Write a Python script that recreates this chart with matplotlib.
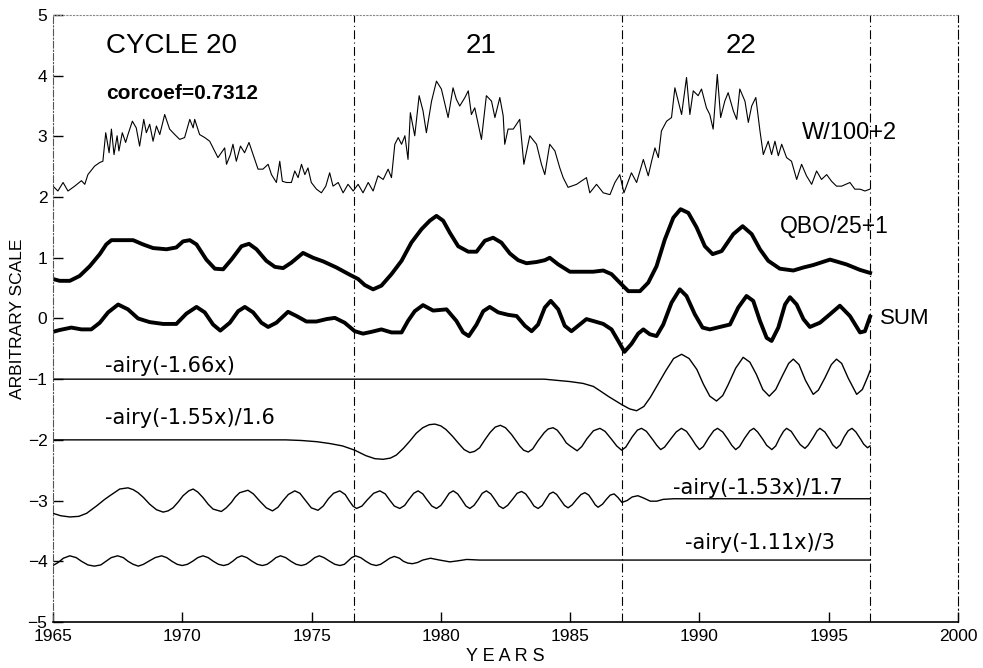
import matplotlib
matplotlib.use('Agg')
import matplotlib.pyplot as plt

plt.rcParams['font.family'] = ['Liberation Sans', 'DejaVu Sans']

# W/100+2 (numero de Wolf)
w_anios = [1965.00, 1965.19, 1965.39, 1965.58, 1965.84, 1966.10, 1966.23, 1966.35, 1966.61, 1966.81,
           1966.93, 1967.04, 1967.17, 1967.26, 1967.36, 1967.48, 1967.55, 1967.68, 1967.81, 1967.90,
           1968.07, 1968.22, 1968.35, 1968.51, 1968.61, 1968.74, 1968.87, 1969.00, 1969.13, 1969.32,
           1969.51, 1969.71, 1969.90, 1970.09, 1970.29, 1970.42, 1970.48, 1970.67, 1970.87, 1971.06,
           1971.25, 1971.38, 1971.51, 1971.64, 1971.71, 1971.86, 1971.96, 1972.09, 1972.25, 1972.41,
           1972.58, 1972.74, 1972.93, 1973.12, 1973.32, 1973.45, 1973.64, 1973.77, 1973.87, 1974.03,
           1974.22, 1974.35, 1974.48, 1974.61, 1974.74, 1974.86, 1974.99, 1975.19, 1975.38, 1975.55,
           1975.70, 1975.83, 1976.03, 1976.22, 1976.41, 1976.61, 1976.80, 1976.99, 1977.19, 1977.38,
           1977.57, 1977.77, 1977.96, 1978.09, 1978.22, 1978.35, 1978.48, 1978.61, 1978.73, 1978.82,
           1978.99, 1979.16, 1979.31, 1979.44, 1979.64, 1979.83, 1980.02, 1980.28, 1980.47, 1980.60,
           1980.73, 1980.93, 1981.06, 1981.18, 1981.31, 1981.57, 1981.76, 1981.96, 1982.09, 1982.28,
           1982.41, 1982.47, 1982.60, 1982.80, 1983.05, 1983.21, 1983.44, 1983.70, 1983.89, 1984.02,
           1984.21, 1984.41, 1984.60, 1984.73, 1984.92, 1985.25, 1985.63, 1985.76, 1986.02, 1986.28,
           1986.54, 1986.73, 1986.92, 1987.08, 1987.37, 1987.57, 1987.83, 1988.02, 1988.15, 1988.28,
           1988.41, 1988.53, 1988.73, 1988.92, 1989.05, 1989.18, 1989.31, 1989.50, 1989.63, 1989.76,
           1989.95, 1990.08, 1990.27, 1990.40, 1990.53, 1990.69, 1990.82, 1990.98, 1991.11, 1991.31,
           1991.44, 1991.56, 1991.76, 1991.89, 1992.02, 1992.18, 1992.34, 1992.47, 1992.66, 1992.79,
           1992.92, 1993.05, 1993.18, 1993.37, 1993.56, 1993.76, 1993.95, 1994.14, 1994.34, 1994.53,
           1994.72, 1994.92, 1995.11, 1995.30, 1995.50, 1995.82, 1996.01, 1996.21, 1996.40, 1996.59]
w_valores = [2.18, 2.10, 2.24, 2.10, 2.18, 2.27, 2.21, 2.37, 2.51, 2.57,
             2.59, 3.06, 2.73, 3.12, 2.70, 3.01, 2.76, 3.06, 2.90, 3.03,
             3.25, 3.14, 2.84, 3.28, 3.06, 3.20, 2.92, 3.17, 3.03, 3.36,
             3.12, 3.03, 2.95, 2.98, 3.28, 3.14, 3.28, 3.03, 2.98, 2.92,
             2.76, 2.65, 2.73, 2.81, 2.54, 2.70, 2.87, 2.59, 2.84, 2.73,
             2.90, 2.70, 2.46, 2.46, 2.54, 2.37, 2.24, 2.59, 2.26, 2.24,
             2.24, 2.43, 2.32, 2.54, 2.37, 2.48, 2.24, 2.13, 2.07, 2.18,
             2.40, 2.18, 2.24, 2.07, 2.21, 2.10, 2.21, 2.07, 2.24, 2.10,
             2.35, 2.29, 2.46, 2.32, 2.87, 2.98, 2.87, 3.01, 2.62, 3.39,
             3.01, 3.67, 3.42, 3.06, 3.58, 3.91, 3.78, 3.31, 3.80, 3.61,
             3.50, 3.64, 3.75, 3.36, 3.47, 2.95, 3.67, 3.58, 3.31, 3.64,
             3.34, 2.87, 3.12, 3.12, 3.28, 2.54, 3.01, 2.87, 2.54, 2.37,
             2.87, 2.76, 2.48, 2.32, 2.16, 2.21, 2.32, 2.07, 2.21, 2.07,
             2.04, 2.24, 2.37, 2.07, 2.40, 2.24, 2.62, 2.35, 2.59, 2.81,
             2.65, 3.09, 3.25, 3.31, 3.80, 3.58, 3.36, 3.97, 3.36, 3.75,
             3.67, 3.78, 3.47, 3.36, 3.12, 4.02, 3.31, 3.58, 3.72, 3.42,
             3.28, 3.78, 3.58, 3.23, 3.50, 3.64, 3.09, 2.70, 2.92, 2.70,
             2.92, 2.68, 2.87, 2.65, 2.59, 2.29, 2.54, 2.35, 2.21, 2.43,
             2.29, 2.37, 2.26, 2.18, 2.18, 2.24, 2.13, 2.13, 2.10, 2.13]

# QBO/25+1
qbo_anios = [1965.0, 1965.26, 1965.65, 1966.03, 1966.42, 1966.81, 1967.06, 1967.26, 1967.71, 1968.1,
             1968.48, 1968.87, 1969.39, 1969.77, 1970.03, 1970.29, 1970.55, 1970.93, 1971.26, 1971.58,
             1971.9, 1972.29, 1972.58, 1972.87, 1973.25, 1973.58, 1973.9, 1974.22, 1974.67, 1975.06,
             1975.45, 1975.96, 1976.48, 1976.8, 1977.06, 1977.38, 1977.7, 1978.09, 1978.48, 1978.86,
             1979.25, 1979.57, 1979.83, 1980.09, 1980.35, 1980.67, 1981.06, 1981.38, 1981.7, 1982.02,
             1982.34, 1982.67, 1982.99, 1983.31, 1983.7, 1984.02, 1984.21, 1984.54, 1984.99, 1985.44,
             1985.89, 1986.28, 1986.6, 1986.99, 1987.25, 1987.7, 1988.02, 1988.34, 1988.66, 1988.99,
             1989.27, 1989.57, 1989.89, 1990.21, 1990.51, 1990.86, 1991.31, 1991.67, 1992.02, 1992.34,
             1992.66, 1993.11, 1993.63, 1994.02, 1994.4, 1995.05, 1995.69, 1996.21, 1996.6]
qbo_valores = [0.65, 0.62, 0.62, 0.70, 0.86, 1.06, 1.22, 1.29, 1.29, 1.29,
               1.22, 1.16, 1.14, 1.17, 1.27, 1.29, 1.22, 0.97, 0.82, 0.81,
               0.97, 1.19, 1.23, 1.14, 0.95, 0.85, 0.83, 0.92, 1.08, 1.00,
               0.94, 0.84, 0.72, 0.65, 0.55, 0.48, 0.54, 0.73, 0.95, 1.25,
               1.47, 1.61, 1.69, 1.61, 1.41, 1.19, 1.10, 1.10, 1.28, 1.33,
               1.25, 1.07, 0.96, 0.91, 0.93, 0.96, 1.00, 0.89, 0.77, 0.77,
               0.77, 0.79, 0.73, 0.56, 0.45, 0.45, 0.59, 0.86, 1.30, 1.66,
               1.80, 1.74, 1.50, 1.19, 1.06, 1.11, 1.39, 1.52, 1.39, 1.14,
               0.95, 0.82, 0.79, 0.84, 0.88, 0.97, 0.89, 0.80, 0.75]

# SUM
sum_anios = [1965.0, 1965.26, 1965.71, 1966.1, 1966.48, 1966.81, 1967.13, 1967.52, 1967.9, 1968.29,
             1968.74, 1969.26, 1969.77, 1970.16, 1970.55, 1970.87, 1971.19, 1971.47, 1971.84, 1972.16,
             1972.42, 1972.74, 1973.06, 1973.32, 1973.64, 1974.09, 1974.42, 1974.8, 1975.19, 1975.58,
             1975.9, 1976.28, 1976.67, 1976.99, 1977.32, 1977.7, 1978.09, 1978.48, 1978.73, 1978.99,
             1979.31, 1979.7, 1980.22, 1980.6, 1980.86, 1981.08, 1981.38, 1981.64, 1981.89, 1982.22,
             1982.6, 1982.93, 1983.25, 1983.51, 1983.76, 1984.02, 1984.25, 1984.54, 1984.79, 1985.05,
             1985.37, 1985.63, 1985.96, 1986.28, 1986.6, 1986.86, 1987.1, 1987.37, 1987.63, 1987.83,
             1988.08, 1988.34, 1988.6, 1988.92, 1989.24, 1989.5, 1989.82, 1990.12, 1990.4, 1990.79,
             1991.18, 1991.5, 1991.82, 1992.08, 1992.34, 1992.6, 1992.79, 1993.05, 1993.31, 1993.5,
             1993.76, 1994.02, 1994.27, 1994.66, 1995.05, 1995.43, 1995.82, 1996.21, 1996.4, 1996.6]
sum_valores = [-0.22, -0.19, -0.15, -0.18, -0.18, -0.07, 0.10, 0.23, 0.15, 0.00,
               -0.06, -0.09, -0.09, 0.08, 0.19, 0.10, -0.10, -0.20, -0.07, 0.12,
               0.19, 0.10, -0.07, -0.14, -0.07, 0.11, 0.04, -0.05, -0.05, -0.01,
               0.01, -0.07, -0.21, -0.25, -0.22, -0.18, -0.23, -0.23, -0.04, 0.12,
               0.22, 0.13, 0.15, -0.04, -0.23, -0.29, -0.10, 0.12, 0.19, 0.10,
               0.06, 0.04, -0.12, -0.21, -0.10, 0.18, 0.29, 0.15, -0.12, -0.21,
               -0.10, -0.01, -0.05, -0.09, -0.18, -0.37, -0.55, -0.42, -0.25, -0.18,
               -0.26, -0.29, -0.10, 0.26, 0.48, 0.37, 0.07, -0.15, -0.18, -0.14,
               -0.10, 0.18, 0.37, 0.29, -0.04, -0.32, -0.37, -0.15, 0.23, 0.35,
               0.23, -0.01, -0.14, -0.07, 0.07, 0.21, 0.04, -0.23, -0.21, 0.03]

# -airy(-1.66x)
a1_anios = [1965.0, 1984.0, 1984.5, 1985.0, 1985.5, 1985.9, 1986.15, 1986.5, 1987.0, 1987.3,
            1987.57, 1987.85, 1988.1, 1988.4, 1988.7, 1989.0, 1989.31, 1989.6, 1989.9, 1990.15,
            1990.4, 1990.66, 1990.9, 1991.1, 1991.4, 1991.69, 1991.95, 1992.2, 1992.45, 1992.7,
            1992.95, 1993.2, 1993.45, 1993.63, 1993.85, 1994.1, 1994.4, 1994.6, 1994.85, 1995.1,
            1995.3, 1995.5, 1995.75, 1996.08, 1996.3, 1996.5, 1996.6]
a1_valores = [-1.0, -1.0, -1.02, -1.04, -1.07, -1.12, -1.19, -1.29, -1.42, -1.49,
              -1.52, -1.45, -1.30, -1.08, -0.86, -0.66, -0.59, -0.66, -0.84, -1.08,
              -1.28, -1.36, -1.27, -1.10, -0.82, -0.64, -0.72, -0.92, -1.17, -1.28,
              -1.17, -0.95, -0.74, -0.67, -0.76, -1.02, -1.25, -1.18, -0.98, -0.76,
              -0.67, -0.74, -0.98, -1.25, -1.17, -0.97, -0.86]

# -airy(-1.55x)/1.6
a2_anios = [1965.0, 1974.0, 1974.6, 1975.2, 1975.7, 1976.2, 1976.67, 1977.1, 1977.45, 1977.77,
            1978.05, 1978.28, 1978.55, 1978.8, 1979.05, 1979.3, 1979.55, 1979.77, 1980.0, 1980.2,
            1980.45, 1980.67, 1980.9, 1981.12, 1981.3, 1981.5, 1981.7, 1981.9, 1982.1, 1982.3,
            1982.5, 1982.73, 1982.9, 1983.05, 1983.2, 1983.38, 1983.55, 1983.75, 1984.0, 1984.15,
            1984.34, 1984.5, 1984.7, 1984.85, 1985.0, 1985.27, 1985.45, 1985.65, 1985.9, 1986.15,
            1986.35, 1986.6, 1986.8, 1986.99, 1987.15, 1987.4, 1987.6, 1987.76, 1987.95, 1988.2,
            1988.35, 1988.5, 1988.65, 1988.9, 1989.1, 1989.3, 1989.5, 1989.7, 1989.85, 1990.0,
            1990.15, 1990.35, 1990.55, 1990.7, 1990.9, 1991.1, 1991.25, 1991.4, 1991.55, 1991.75,
            1991.95, 1992.1, 1992.25, 1992.45, 1992.6, 1992.8, 1992.95, 1993.1, 1993.25, 1993.37,
            1993.55, 1993.75, 1993.9, 1994.08, 1994.2, 1994.4, 1994.55, 1994.66, 1994.85, 1995.05,
            1995.15, 1995.3, 1995.45, 1995.6, 1995.75, 1995.9, 1996.05, 1996.25, 1996.35, 1996.5,
            1996.6]
a2_valores = [-2.0, -2.0, -2.01, -2.03, -2.06, -2.10, -2.17, -2.26, -2.31, -2.32,
              -2.30, -2.25, -2.14, -2.02, -1.89, -1.80, -1.75, -1.74, -1.77, -1.83,
              -1.94, -2.05, -2.16, -2.21, -2.19, -2.13, -2.00, -1.88, -1.79, -1.76,
              -1.80, -1.91, -2.01, -2.10, -2.17, -2.20, -2.15, -2.02, -1.88, -1.82,
              -1.80, -1.84, -1.95, -2.05, -2.10, -2.18, -2.11, -1.98, -1.85, -1.81,
              -1.86, -1.99, -2.10, -2.17, -2.12, -1.95, -1.84, -1.81, -1.86, -2.00,
              -2.09, -2.16, -2.12, -1.98, -1.87, -1.81, -1.86, -1.98, -2.08, -2.16,
              -2.11, -1.97, -1.85, -1.81, -1.87, -1.99, -2.09, -2.16, -2.11, -1.97,
              -1.85, -1.81, -1.87, -1.99, -2.09, -2.16, -2.10, -1.97, -1.86, -1.81,
              -1.86, -1.99, -2.08, -2.14, -2.09, -1.96, -1.85, -1.81, -1.87, -2.00,
              -2.08, -2.14, -2.08, -1.95, -1.85, -1.81, -1.87, -2.00, -2.07, -2.13,
              -2.10]

# -airy(-1.53x)/1.7
a3_anios = [1965.0, 1965.3, 1965.65, 1966.0, 1966.3, 1966.68, 1967.0, 1967.2, 1967.58, 1967.9,
            1968.1, 1968.29, 1968.5, 1968.74, 1969.0, 1969.26, 1969.45, 1969.64, 1969.85, 1970.03,
            1970.25, 1970.42, 1970.6, 1970.8, 1971.0, 1971.19, 1971.51, 1971.7, 1971.9, 1972.05,
            1972.22, 1972.54, 1972.75, 1973.0, 1973.25, 1973.49, 1973.7, 1973.9, 1974.1, 1974.35,
            1974.55, 1974.75, 1974.99, 1975.25, 1975.45, 1975.65, 1975.85, 1976.09, 1976.3, 1976.45,
            1976.6, 1976.74, 1976.95, 1977.15, 1977.4, 1977.64, 1977.85, 1978.0, 1978.2, 1978.41,
            1978.6, 1978.75, 1978.95, 1979.12, 1979.3, 1979.45, 1979.65, 1979.83, 1980.0, 1980.15,
            1980.32, 1980.48, 1980.65, 1980.8, 1980.97, 1981.12, 1981.28, 1981.45, 1981.6, 1981.76,
            1981.93, 1982.08, 1982.25, 1982.41, 1982.58, 1982.77, 1982.95, 1983.12, 1983.28, 1983.45,
            1983.6, 1983.76, 1983.92, 1984.05, 1984.2, 1984.34, 1984.48, 1984.63, 1984.78, 1984.92,
            1985.08, 1985.25, 1985.42, 1985.57, 1985.72, 1985.85, 1985.97, 1986.08, 1986.25, 1986.4,
            1986.55, 1986.7, 1986.85, 1987.0, 1987.2, 1987.4, 1987.62, 1987.85, 1988.1, 1988.35,
            1988.6, 1989.0, 1996.6]
a3_valores = [-3.21, -3.25, -3.27, -3.26, -3.21, -3.09, -2.98, -2.92, -2.81, -2.79,
              -2.82, -2.87, -2.95, -3.06, -3.15, -3.19, -3.17, -3.12, -3.02, -2.92,
              -2.84, -2.81, -2.86, -2.95, -3.06, -3.14, -3.18, -3.12, -3.03, -2.94,
              -2.87, -2.83, -2.89, -3.01, -3.12, -3.17, -3.11, -3.00, -2.90, -2.84,
              -2.88, -2.99, -3.12, -3.16, -3.09, -2.97, -2.88, -2.84, -2.90, -3.00,
              -3.09, -3.13, -3.09, -2.99, -2.88, -2.84, -2.89, -2.98, -3.09, -3.13,
              -3.08, -2.99, -2.88, -2.84, -2.89, -2.98, -3.09, -3.13, -3.08, -2.99,
              -2.88, -2.84, -2.89, -2.98, -3.09, -3.13, -3.08, -2.98, -2.88, -2.84,
              -2.89, -2.98, -3.09, -3.13, -3.08, -2.98, -2.88, -2.85, -2.89, -2.99,
              -3.09, -3.13, -3.08, -2.99, -2.89, -2.86, -2.90, -2.99, -3.08, -3.12,
              -3.07, -2.98, -2.90, -2.87, -2.91, -2.99, -3.07, -3.11, -3.06, -2.98,
              -2.91, -2.89, -2.95, -3.03, -3.00, -2.94, -2.92, -2.96, -3.01, -3.01,
              -2.98, -2.97, -2.97]

# -airy(-1.11x)/3
a4_anios = [1965.0, 1965.2, 1965.4, 1965.65, 1965.9, 1966.1, 1966.35, 1966.6, 1966.85, 1967.05,
            1967.25, 1967.5, 1967.72, 1967.9, 1968.1, 1968.3, 1968.5, 1968.7, 1968.95, 1969.2,
            1969.4, 1969.6, 1969.8, 1970.0, 1970.2, 1970.4, 1970.6, 1970.8, 1971.0, 1971.2,
            1971.4, 1971.6, 1971.78, 1971.95, 1972.12, 1972.3, 1972.5, 1972.7, 1972.9, 1973.1,
            1973.28, 1973.45, 1973.62, 1973.8, 1974.0, 1974.2, 1974.4, 1974.6, 1974.78, 1974.95,
            1975.12, 1975.3, 1975.48, 1975.7, 1975.9, 1976.1, 1976.27, 1976.4, 1976.55, 1976.7,
            1976.9, 1977.1, 1977.3, 1977.5, 1977.67, 1977.85, 1978.02, 1978.2, 1978.4, 1978.55,
            1978.72, 1978.9, 1979.1, 1979.3, 1979.6, 1979.95, 1980.35, 1980.7, 1981.0, 1981.5,
            1996.6]
a4_valores = [-4.07, -4.02, -3.95, -3.91, -3.94, -4.00, -4.06, -4.08, -4.06, -4.00,
              -3.94, -3.91, -3.94, -4.00, -4.05, -4.08, -4.05, -4.00, -3.94, -3.91,
              -3.94, -4.00, -4.05, -4.07, -4.05, -4.00, -3.94, -3.91, -3.94, -4.00,
              -4.05, -4.07, -4.05, -4.00, -3.94, -3.91, -3.94, -4.00, -4.05, -4.07,
              -4.05, -4.00, -3.94, -3.91, -3.94, -4.00, -4.05, -4.07, -4.05, -4.00,
              -3.94, -3.91, -3.94, -4.00, -4.05, -4.07, -4.05, -4.00, -3.94, -3.91,
              -3.94, -4.00, -4.05, -4.07, -4.05, -4.00, -3.95, -3.92, -3.95, -4.00,
              -4.03, -4.04, -4.02, -3.98, -3.95, -3.98, -4.01, -3.99, -3.97, -3.98,
              -3.98]

# limites de los ciclos solares
limites_ciclos = [1976.64, 1986.99, 1996.6]

fig = plt.figure(figsize=(9.83, 6.68), dpi=100)
ax = fig.add_axes([0.0539, 0.0689, 0.9207, 0.9087])

ax.plot(w_anios, w_valores, color='black', lw=0.8)
ax.plot(qbo_anios, qbo_valores, color='black', lw=2.8, solid_joinstyle='round')
ax.plot(sum_anios, sum_valores, color='black', lw=2.8, solid_joinstyle='round')
for anios, valores in [(a1_anios, a1_valores), (a2_anios, a2_valores),
                       (a3_anios, a3_valores), (a4_anios, a4_valores)]:
    ax.plot(anios, valores, color='black', lw=1.0, solid_joinstyle='round')

for x in limites_ciclos:
    ax.axvline(x, color='black', lw=0.8, ls=(0, (8, 3, 1, 3)))

ax.set_xlim(1965, 2000)
ax.set_ylim(-5, 5)
ax.set_xticks(range(1965, 2001, 5))
ax.set_yticks(range(-5, 6))
ax.tick_params(direction='in', length=7, width=1, labelsize=12.5, top=False, right=False)
ax.tick_params(axis='x', pad=5)
ax.tick_params(axis='y', pad=4)

ax.spines['bottom'].set_linewidth(1.2)
ax.spines['left'].set_linewidth(0.8)
ax.spines['left'].set_linestyle((0, (6, 2, 1, 2)))
ax.spines['left'].set_color('#555555')
ax.spines['right'].set_linewidth(0.8)
ax.spines['right'].set_linestyle((0, (8, 3, 1, 3)))
ax.spines['top'].set_linewidth(0.8)
ax.spines['top'].set_linestyle((0, (1, 2)))
ax.spines['top'].set_color('#888888')

ax.set_ylabel('ARBITRARY SCALE', fontsize=12.5, labelpad=2)
ax.set_xlabel('Y E A R S', fontsize=13, labelpad=3)

ax.text(1967.04, 4.49, 'CYCLE 20', fontsize=20, va='center')
ax.text(1981.57, 4.49, '21', fontsize=20, va='center', ha='center')
ax.text(1991.6, 4.49, '22', fontsize=20, va='center', ha='center')
ax.text(1967.04, 3.70, 'corcoef=0.7312', fontsize=15, fontweight='bold', va='center')
ax.text(1993.96, 3.05, 'W/100+2', fontsize=17, va='center')
ax.text(1993.1, 1.52, 'QBO/25+1', fontsize=16.5, va='center')
ax.text(1997.0, 0.0, 'SUM', fontsize=16, va='center')

# etiquetas de las funciones airy
fuente_airy = dict(fontsize=15, family='DejaVu Sans', va='center')
ax.text(1967.0, -0.78, '-airy(-1.66x)', **fuente_airy)
ax.text(1967.0, -1.64, '-airy(-1.55x)/1.6', **fuente_airy)
ax.text(1988.97, -2.79, '-airy(-1.53x)/1.7', **fuente_airy)
ax.text(1989.43, -3.70, '-airy(-1.11x)/3', **fuente_airy)

fig.savefig('out.png', dpi=100)
